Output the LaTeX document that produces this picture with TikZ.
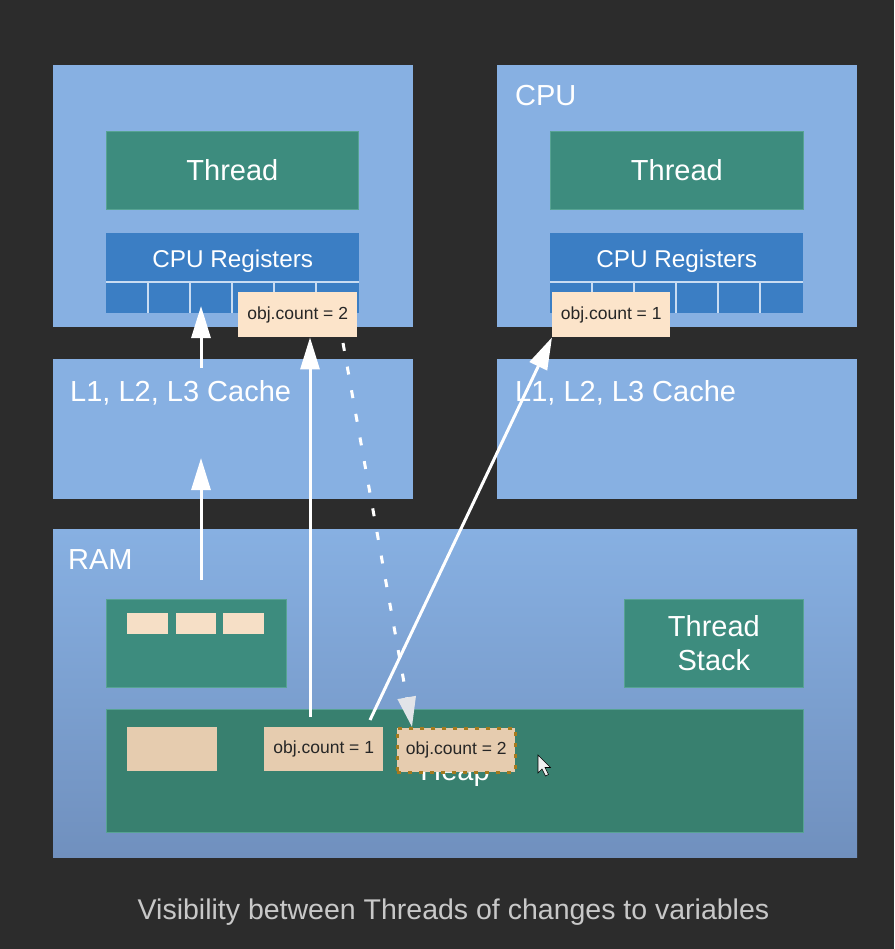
\documentclass[tikz,border=0pt]{standalone}
\usepackage{fontspec}
\setmainfont{Liberation Sans}
\usetikzlibrary{arrows.meta,calc}

\definecolor{bg}{HTML}{2C2C2C}
\definecolor{panel}{HTML}{87B0E2}
\definecolor{panellow}{HTML}{7090BE}
\definecolor{tealbox}{HTML}{3D8C7E}
\definecolor{tealheap}{HTML}{38806F}
\definecolor{tealedge}{HTML}{57A393}
\definecolor{regblue}{HTML}{3B7EC4}
\definecolor{regline}{HTML}{C9DCF2}
\definecolor{peach}{HTML}{FCE4CA}
\definecolor{tanbox}{HTML}{E6CCAF}
\definecolor{goldedge}{HTML}{A57A1E}
\definecolor{captiongrey}{HTML}{C8C8C8}
\definecolor{headgrey}{HTML}{E2E4E8}

\begin{document}
\begin{tikzpicture}[x=1pt,y=-1pt,
  panelbox/.style={fill=panel,draw=none,anchor=north west,inner sep=0pt},
  greenbox/.style={fill=tealbox,draw=tealedge,line width=0.8pt,anchor=north west,inner sep=0pt,
                   text=white,font=\fontsize{29}{34}\selectfont,align=center},
  regbox/.style={fill=regblue,draw=none,anchor=north west,inner sep=0pt},
  valbox/.style={fill=peach,draw=none,anchor=north west,inner sep=0pt,text=black!85,
                 font=\fontsize{17.5}{20}\selectfont},
  heapval/.style={fill=tanbox,draw=none,anchor=north west,inner sep=0pt,text=black!85,
                 font=\fontsize{17.5}{20}\selectfont},
  bigtext/.style={text=white,inner sep=0pt,font=\fontsize{29}{34}\selectfont},
  flow/.style={draw=white,line width=3pt,-{Triangle[length=32pt,width=19pt]}},
  flush/.style={draw=white,line width=3pt,dash pattern=on 8pt off 16pt,
                -{Triangle[length=30pt,width=18pt,color=headgrey]}}
]
% background
\fill[bg] (0,0) rectangle (894,949);
\useasboundingbox (0,0) rectangle (894,949);

% ---------- left CPU ----------
\node[panelbox,minimum width=360pt,minimum height=262pt] (cpuL) at (53,65) {};
\node[greenbox,minimum width=252pt,minimum height=78pt] (thrL) at (106,131) {Thread};
\node[regbox,minimum width=253pt,minimum height=80pt] (regL) at (106,233) {};
\node[bigtext,anchor=base,font=\fontsize{24.3}{28}\selectfont] at ($(regL.north)+(0,35)$) {CPU Registers};
\draw[regline,line width=2pt] ($(regL.south west)+(0,-31)$) -- ($(regL.south east)+(0,-31)$);
\foreach \k in {1,...,5}
  \draw[regline,line width=2pt] ($(regL.south west)+(42*\k,-31)$) -- ($(regL.south west)+(42*\k,0)$);
\node[valbox,minimum width=119pt,minimum height=45pt] (objL) at (238,292) {obj.count = 2};

% ---------- right CPU ----------
\node[panelbox,minimum width=360pt,minimum height=262pt] (cpuR) at (497,65) {};
\node[bigtext,anchor=base west] at (515,106) {CPU};
\node[greenbox,minimum width=253pt,minimum height=78pt] (thrR) at (550,131) {Thread};
\node[regbox,minimum width=253pt,minimum height=80pt] (regR) at (550,233) {};
\node[bigtext,anchor=base,font=\fontsize{24.3}{28}\selectfont] at ($(regR.north)+(0,35)$) {CPU Registers};
\draw[regline,line width=2pt] ($(regR.south west)+(0,-31)$) -- ($(regR.south east)+(0,-31)$);
\foreach \k in {1,...,5}
  \draw[regline,line width=2pt] ($(regR.south west)+(42*\k,-31)$) -- ($(regR.south west)+(42*\k,0)$);
\node[valbox,minimum width=118pt,minimum height=45pt] (objR) at (552,292) {obj.count = 1};

% ---------- caches ----------
\node[panelbox,minimum width=360pt,minimum height=140pt] (cacheL) at (53,359) {};
\node[bigtext,anchor=base west] at (70,401) {L1, L2, L3 Cache};
\node[panelbox,minimum width=360pt,minimum height=140pt] (cacheR) at (497,359) {};
\node[bigtext,anchor=base west] at (515,401) {L1, L2, L3 Cache};

% ---------- RAM ----------
\shade[top color=panel,bottom color=panellow] (53,529) rectangle (857,857);
\coordinate (ram) at (53,529);
\node[bigtext,anchor=base west] at (68,569) {RAM};

\node[greenbox,minimum width=180pt,minimum height=88pt] (statics) at (106,599) {};
\node[fill=peach!95!gray,anchor=north west,inner sep=0pt,minimum width=41pt,minimum height=21pt] (s1) at (127,613) {};
\node[fill=peach!95!gray,anchor=north west,inner sep=0pt,minimum width=40pt,minimum height=21pt] (s2) at (176,613) {};
\node[fill=peach!95!gray,anchor=north west,inner sep=0pt,minimum width=41pt,minimum height=21pt] (s3) at (223,613) {};

\node[greenbox,minimum width=179pt,minimum height=88pt] (tstack) at (624,599) {Thread\\Stack};

\node[greenbox,fill=tealheap,minimum width=697pt,minimum height=123pt] (heap) at (106,709) {};
\node[bigtext,anchor=base] at (455,780) {Heap};
\node[heapval,minimum width=90pt,minimum height=44pt] (blob) at (127,727) {};
\node[heapval,minimum width=119pt,minimum height=44pt] (heapA) at (264,727) {obj.count = 1};
\node[heapval,draw=goldedge,line width=2.5pt,dash pattern=on 4pt off 7pt,
      minimum width=118pt,minimum height=44pt] (heapB) at (396,727) {obj.count = 2};

% ---------- data movement ----------
\coordinate (ramUp) at (201,580);
\coordinate (cacheIn) at (201,458);
\coordinate (cacheUp) at (201,368);
\coordinate (cellIn) at (201,306);
\coordinate (readA) at (310,717);
\coordinate (readB) at (370,720);
\coordinate (writeBack) at (343,343);

\draw[flow] (ramUp) -- (cacheIn);
\draw[flow] (cacheUp) -- (cellIn);
\draw[flow] (readA) -- (readA |- objL.south);
\draw[flow] (readB) -- (objR.south west);
\draw[flush] (writeBack) -- ([xshift=16pt]heapB.north west);

% mouse pointer
\filldraw[fill=white!88!gray,draw=black,line width=0.6pt]
  (538,755) -- (538,773) -- (542,769) -- (545.5,776) -- (548.5,774.5) -- (545,767.5) -- (550.5,767.5) -- cycle;

% caption
\node[anchor=base,text=captiongrey,inner sep=0pt,font=\fontsize{28.5}{32}\selectfont] (caption) at (453.5,919)
  {Visibility between Threads of changes to variables};
\end{tikzpicture}
\end{document}
